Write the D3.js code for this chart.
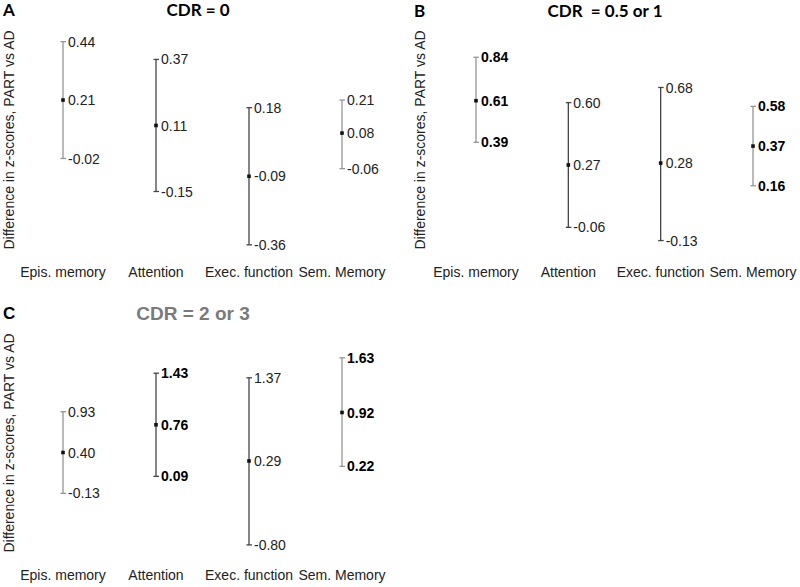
<!DOCTYPE html>
<html><head><meta charset="utf-8">
<script src="https://cdn.jsdelivr.net/npm/d3@7"></script>
<style>body{margin:0;background:#fff}</style>
</head><body>
<script>
const categories = ["Epis. memory", "Attention", "Exec. function", "Sem. Memory"];
const lineColors = ["#959595", "#444444", "#444444", "#959595"];

const meanA = [0.21, 0.11, -0.09, 0.08];
const lowA  = [-0.02, -0.15, -0.36, -0.06];
const highA = [0.44, 0.37, 0.18, 0.21];
const boldA = [false, false, false, false];

const meanB = [0.61, 0.27, 0.28, 0.37];
const lowB  = [0.39, -0.06, -0.13, 0.16];
const highB = [0.84, 0.60, 0.68, 0.58];
const boldB = [true, false, false, true];

const meanC = [0.40, 0.76, 0.29, 0.92];
const lowC  = [-0.13, 0.09, -0.80, 0.22];
const highC = [0.93, 1.43, 1.37, 1.63];
const boldC = [false, true, false, true];

const W = 800, H = 587;
const svg = d3.select("body").append("svg").attr("width", W).attr("height", H);

const panels = [
  {letter:"A", title:"CDR = 0", mean:meanA, low:lowA, high:highA, bold:boldA,
   x0:63, x1:342, dom:[-0.4,0.5], rng:[255,26.4], ylabX:14, ylabY:140, catY:277,
   letterX:3, letterY:16, titleX:198, titleY:16, titleFont:"Lato, 'Open Sans', sans-serif", titleSize:17, titleColor:"#000"},
  {letter:"B", title:"CDR  = 0.5 or 1", mean:meanB, low:lowB, high:highB, bold:boldB,
   x0:476, x1:753, dom:[-0.2,0.9], rng:[253.8,45.9], ylabX:425, ylabY:140, catY:277,
   letterX:414, letterY:17, titleX:605, titleY:17, titleFont:"Lato, 'Open Sans', sans-serif", titleSize:17, titleColor:"#000"},
  {letter:"C", title:"CDR = 2 or 3", mean:meanC, low:lowC, high:highC, bold:boldC,
   x0:63, x1:342, dom:[-1,1.8], rng:[560.3,344.7], ylabX:14, ylabY:443, catY:580,
   letterX:3, letterY:319, titleX:193, titleY:320, titleFont:"'Liberation Sans', Arial, sans-serif", titleSize:19, titleColor:"#7a7a7a"}
];

const fmt = v => d3.format(".2f")(v).replace("\u2212", "-");

panels.forEach(p => {
  const x = d3.scalePoint().domain(categories).range([p.x0, p.x1]).padding(0);
  const y = d3.scaleLinear().domain(p.dom).range(p.rng);
  const g = svg.append("g");

  g.append("text").attr("x", p.letterX).attr("y", p.letterY)
    .attr("font-family", p.letter === "C" ? "'Liberation Sans', Arial, sans-serif" : "Lato, 'Open Sans', sans-serif")
    .attr("font-weight", "bold").attr("font-size", 17).attr("fill", "#000").text(p.letter);

  g.append("text").attr("x", p.titleX).attr("y", p.titleY).attr("text-anchor", "middle")
    .attr("font-family", p.titleFont).attr("font-weight", "bold")
    .attr("font-size", p.titleSize).attr("fill", p.titleColor)
    .attr("xml:space", "preserve").style("white-space", "pre").text(p.title);

  g.append("text").attr("transform", `translate(${p.ylabX},${p.ylabY}) rotate(-90)`)
    .attr("text-anchor", "middle").attr("font-family", "'Liberation Sans', Arial, sans-serif")
    .attr("font-size", 14).attr("fill", "#222").text("Difference in z-scores, PART vs AD");

  categories.forEach((c, i) => {
    const cx = x(c);
    const col = lineColors[i];
    g.append("line").attr("x1", cx).attr("x2", cx).attr("y1", y(p.high[i])).attr("y2", y(p.low[i]))
      .attr("stroke", col).attr("stroke-width", 1.3);
    [p.high[i], p.low[i]].forEach(v => {
      g.append("line").attr("x1", cx - 2.5).attr("x2", cx + 3).attr("y1", y(v)).attr("y2", y(v))
        .attr("stroke", col).attr("stroke-width", 1.3);
    });
    g.append("rect").attr("x", cx - 1.8).attr("y", y(p.mean[i]) - 1.8).attr("width", 3.6).attr("height", 3.6)
      .attr("fill", "#111");
    [p.high[i], p.mean[i], p.low[i]].forEach(v => {
      g.append("text").attr("x", cx + 5).attr("y", y(v)).attr("dy", "0.36em")
        .attr("font-family", "'Liberation Sans', Arial, sans-serif").attr("font-size", 14)
        .attr("font-weight", p.bold[i] ? "bold" : "normal")
        .attr("fill", p.bold[i] ? "#000" : "#222").text(fmt(v));
    });
    g.append("text").attr("x", cx).attr("y", p.catY).attr("text-anchor", "middle")
      .attr("font-family", "'Liberation Sans', Arial, sans-serif").attr("font-size", 14)
      .attr("fill", "#222").text(c);
  });
});
</script>
</body></html>
